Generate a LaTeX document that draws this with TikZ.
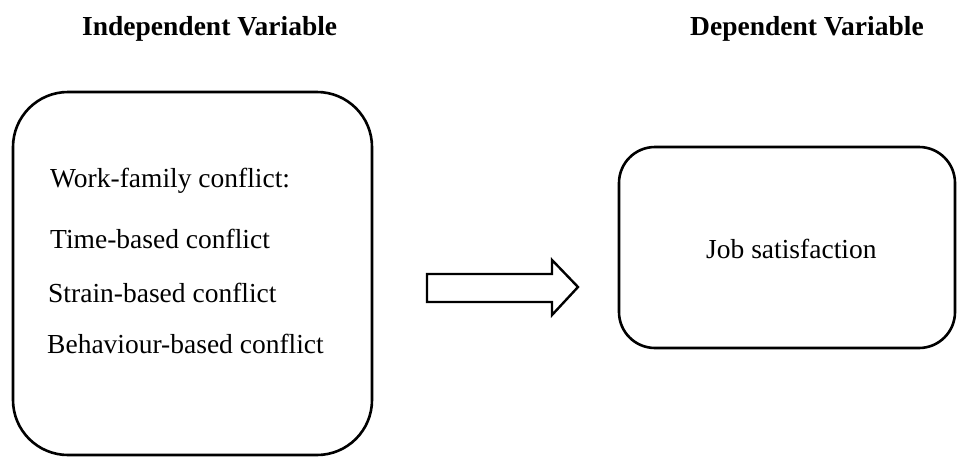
\documentclass[tikz,border=0pt]{standalone}
\usepackage{fontspec}
\setmainfont{Liberation Serif}
\begin{document}
\begin{tikzpicture}[x=1pt,y=-1pt,
  box/.style={draw=black,line width=2.6pt},
  txt/.style={anchor=base west,inner sep=0pt,font=\fontsize{27.5}{32}\selectfont},
  ttl/.style={anchor=base west,inner sep=0pt,font=\fontsize{27.5}{32}\selectfont\bfseries}]
\useasboundingbox (0,0) rectangle (958,458);
% titles
\node[ttl] (ivt) at (82,35) {Independent Variable};
\node[ttl] (dvt) at (690,35) {Dependent Variable};
% left box
\draw[box,rounded corners=55pt] (13,92) rectangle (372,455);
\node[txt] (l1) at (50,187) {Work-family conflict:};
\node[txt] (l2) at (50,248) {Time-based conflict};
\node[txt] (l3) at (48,302) {Strain-based conflict};
\node[txt] (l4) at (47,353) {Behaviour-based conflict};
% right box
\draw[box,rounded corners=36pt] (619,147) rectangle (955,348);
\node[txt] (js) at (706,258) {Job satisfaction};
% block arrow
\draw[line width=2.4pt,line join=miter] (427,274) -- (552,274) -- (552,260) -- (578,287) -- (552,315) -- (552,302) -- (427,302) -- cycle;
\end{tikzpicture}
\end{document}
